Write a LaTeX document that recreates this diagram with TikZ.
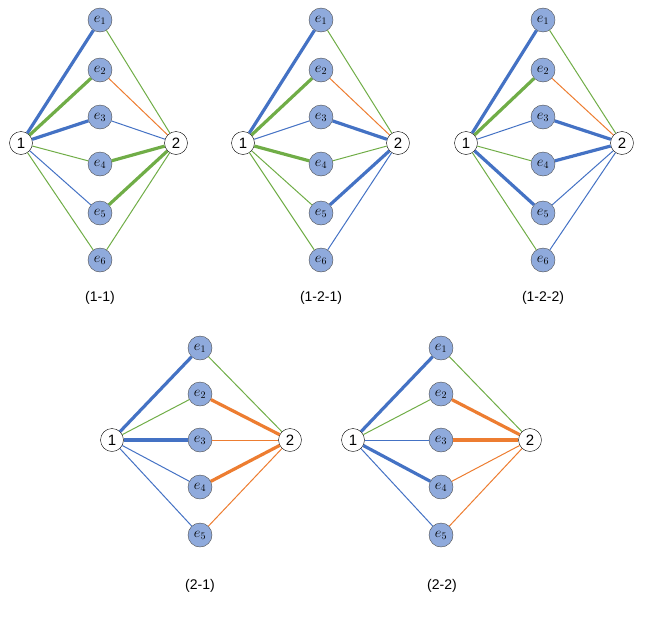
\documentclass[tikz,border=0pt]{standalone}
\usepackage{fontspec}
\setsansfont{Liberation Sans}
\definecolor{cb}{HTML}{4472C4}
\definecolor{cg}{HTML}{70AD47}
\definecolor{co}{HTML}{ED7D31}
\definecolor{cf}{HTML}{8FAADC}
\begin{document}
\begin{tikzpicture}[x=1pt,y=-1pt,
  en/.style={circle,draw=black!70,fill=cf,minimum size=24pt,inner sep=0pt,font=\fontsize{14}{14}\selectfont},
  tn/.style={circle,draw=black,fill=white,minimum size=23pt,inner sep=0pt,font=\sffamily\fontsize{15}{15}\selectfont},
  lbl/.style={font=\sffamily\fontsize{14}{14}\selectfont},
  B/.style={cb,line width=1pt}, BB/.style={cb,line width=3.2pt},
  G/.style={cg,line width=1pt}, GG/.style={cg,line width=3.2pt},
  O/.style={co,line width=1pt}, OO/.style={co,line width=3.2pt}]
\useasboundingbox (0,0) rectangle (645,632);
\newcommand{\panelsix}[6]{%
  \node[tn] (#1a) at (#2,143) {1};
  \node[tn] (#1b) at (#4,143) {2};
  \foreach \i/\yy in {1/20,2/70,3/117,4/164,5/213,6/260}
    \node[en] (#1e\i) at (#3,\yy) {$e_{\i}$};
  \foreach \i/\s in {#5} \draw[\s] (#1a) -- (#1e\i);
  \foreach \i/\s in {#6} \draw[\s] (#1e\i) -- (#1b);
}
\newcommand{\panelfive}[6]{%
  \node[tn] (#1a) at (#2,440) {1};
  \node[tn] (#1b) at (#4,440) {2};
  \foreach \i/\yy in {1/348,2/394,3/440,4/487,5/535}
    \node[en] (#1e\i) at (#3,\yy) {$e_{\i}$};
  \foreach \i/\s in {#5} \draw[\s] (#1a) -- (#1e\i);
  \foreach \i/\s in {#6} \draw[\s] (#1e\i) -- (#1b);
}
\panelsix{p}{21}{100}{176}{1/BB,2/GG,3/BB,4/G,5/B,6/G}{1/G,2/O,3/B,4/GG,5/GG,6/G}
\panelsix{q}{243}{321}{398}{1/BB,2/GG,3/B,4/GG,5/G,6/G}{1/G,2/O,3/BB,4/G,5/BB,6/B}
\panelsix{r}{466}{543}{622}{1/BB,2/GG,3/B,4/G,5/BB,6/G}{1/G,2/O,3/BB,4/BB,5/B,6/B}
\panelfive{s}{112}{200}{290}{1/BB,2/G,3/BB,4/B,5/B}{1/G,2/OO,3/O,4/OO,5/O}
\panelfive{t}{353}{441}{530}{1/BB,2/G,3/B,4/BB,5/B}{1/G,2/OO,3/OO,4/O,5/O}
\node[lbl] (l1) at (100,298) {(1-1)};
\node[lbl] (l2) at (321,298) {(1-2-1)};
\node[lbl] (l3) at (543,298) {(1-2-2)};
\node[lbl] (l4) at (200,586) {(2-1)};
\node[lbl] (l5) at (442,586) {(2-2)};
\end{tikzpicture}
\end{document}
